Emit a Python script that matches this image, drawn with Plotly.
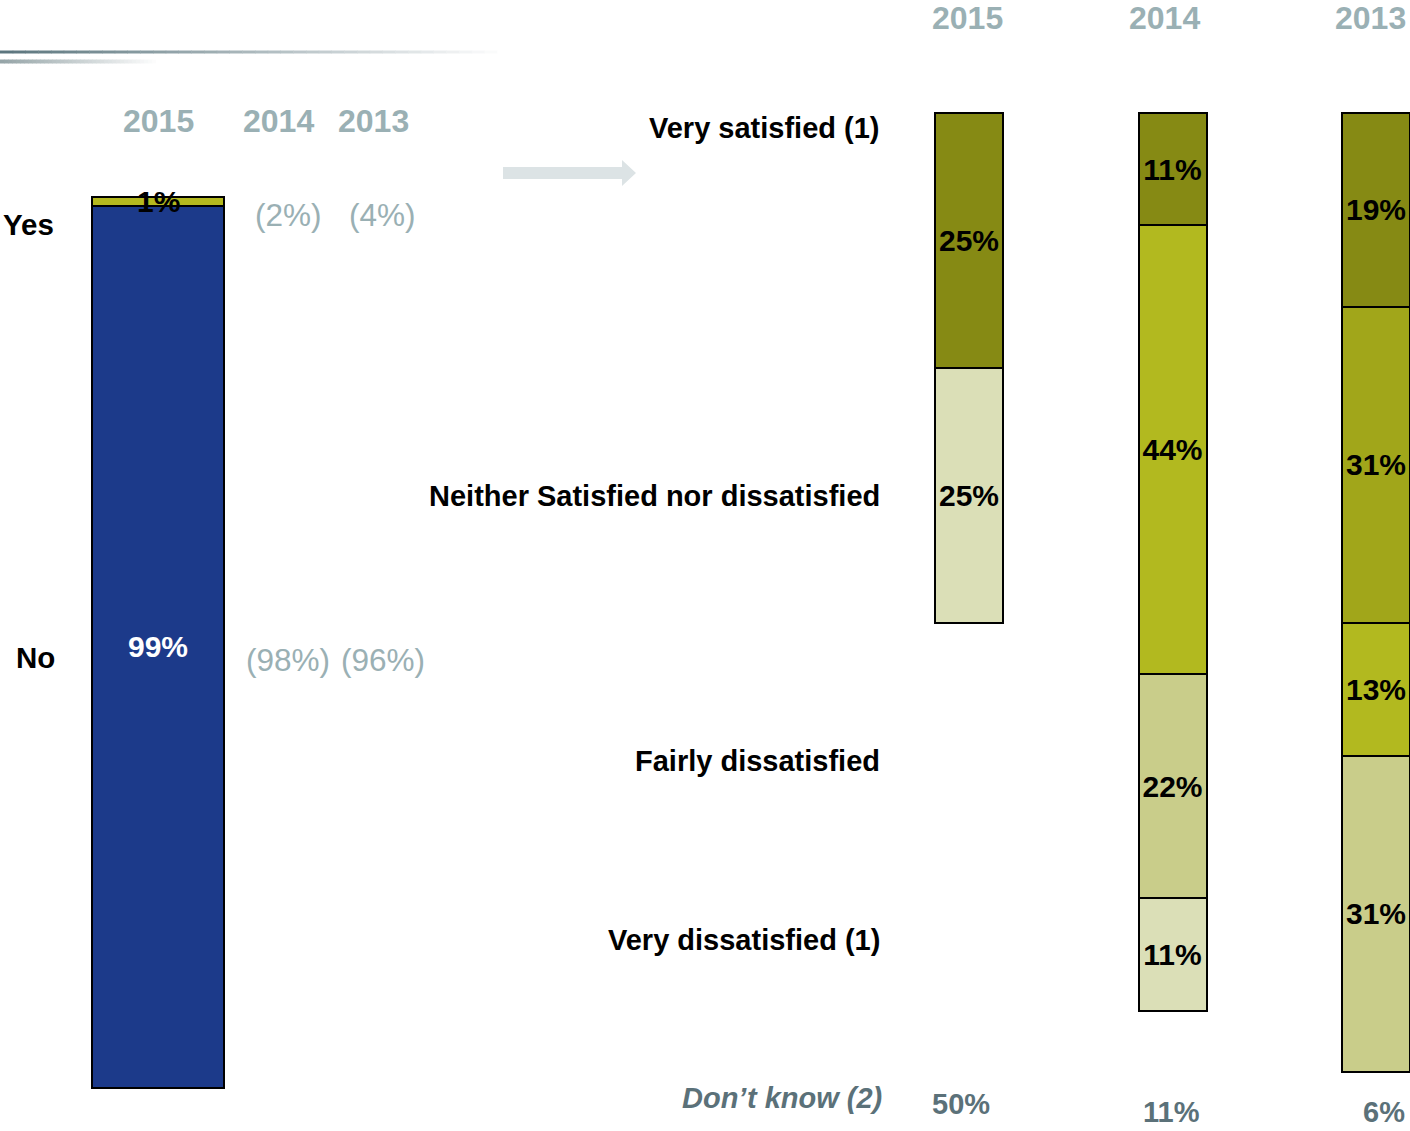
import plotly.graph_objects as go

W, H = 1410, 1131

# --- data -------------------------------------------------------------
left_year = ["2015"]
yes_pct = [1]
no_pct = [99]
prev_yes = ["(2%)", "(4%)"]
prev_no = ["(98%)", "(96%)"]
left_years_header = ["2015", "2014", "2013"]

years = ["2015", "2014", "2013"]
very_satisfied = [25, 11, 19]
fairly_satisfied = [None, None, 31]
neither = [None, 44, 13]
fairly_dissatisfied = [None, 22, 31]
very_dissatisfied = [25, 11, None]
dont_know = ["50%", "11%", "6%"]

row_labels = ["Very satisfied (1)", "Neither Satisfied nor dissatisfied",
              "Fairly dissatisfied", "Very dissatisfied (1)"]

FONT = "Liberation Sans, Arial, sans-serif"
GREY = "#9AB0B4"
SLATE = "#5B7179"


def px(x):
    return x / W


def py(y):
    return 1 - y / H


fig = go.Figure()


def add_bar(x, y, color, xaxis, yaxis, width, txtcolor="black", label=True):
    txt = [f"<b>{v}%</b>" if (v and label) else "" for v in y]
    fig.add_trace(go.Bar(
        x=x, y=y, xaxis=xaxis, yaxis=yaxis, width=width,
        marker=dict(color=color, line=dict(color="black", width=2)),
        text=txt, textposition="inside", insidetextanchor="middle",
        constraintext="none", textangle=0, cliponaxis=False,
        insidetextfont=dict(family=FONT, size=30, color=txtcolor),
        showlegend=False, hoverinfo="skip",
    ))


# left Yes/No bar (the thin "Yes" label is drawn as an annotation so it sits on top)
add_bar(left_year, yes_pct, "#B4B91F", "x2", "y2", 1, label=False)
add_bar(left_year, no_pct, "#1C3A8A", "x2", "y2", 1, txtcolor="white")

# right satisfaction bars
seg_w = 68 / 203.5
add_bar(years, very_satisfied, "#868A14", "x", "y", seg_w)
add_bar(years, fairly_satisfied, "#A1A61A", "x", "y", seg_w)
add_bar(years, neither, "#B2B91F", "x", "y", seg_w)
add_bar(years, fairly_dissatisfied, "#C9CD8A", "x", "y", seg_w)
add_bar(years, very_dissatisfied, "#DBDFB7", "x", "y", seg_w)

# axes geometry
# left: 132 px per category unit, 8.91 px per percent, 0% at y=197
lpx, lx0, lx1, lxc = 132, 86, 230, 158
ly_px, ly0, ly_top, ly_bot = 8.91, 197, 150, 1096
# right: 203.5 px per category, 10.2 px per percent, 0% at y=113
rpx, rx0 = 203.5, 860
ry_px, ry0, ry_top = 10.2, 113, 105

ax_off = dict(visible=False, showgrid=False, zeroline=False, fixedrange=True)
fig.update_layout(
    barmode="stack",
    width=W, height=H,
    margin=dict(l=0, r=0, t=0, b=0),
    paper_bgcolor="white", plot_bgcolor="rgba(0,0,0,0)",
    xaxis=dict(**ax_off, type="category", domain=[px(rx0), 1],
               range=[-(969 - rx0) / rpx, -(969 - rx0) / rpx + (W - rx0) / rpx]),
    yaxis=dict(**ax_off, domain=[0, py(ry_top)],
               range=[(H - ry0) / ry_px, -(ry0 - ry_top) / ry_px]),
    xaxis2=dict(**ax_off, type="category", domain=[px(lx0), px(lx1)],
                range=[-(lxc - lx0) / lpx, (lx1 - lxc) / lpx]),
    yaxis2=dict(**ax_off, anchor="x2", domain=[py(ly_bot), py(ly_top)],
                range=[(ly_bot - ly0) / ly_px, -(ly0 - ly_top) / ly_px]),
    font=dict(family=FONT),
)

ann = []


def text(x, y, s, size, color="black", bold=True, anchor="center", italic=False):
    if bold:
        s = f"<b>{s}</b>"
    if italic:
        s = f"<i>{s}</i>"
    ann.append(dict(x=px(x), y=py(y), xref="paper", yref="paper", text=s,
                    showarrow=False, xanchor=anchor, yanchor="middle",
                    font=dict(family=FONT, size=size, color=color)))


# "1%" label over the thin Yes segment (centre of the segment on the left scale)
text(lxc, ly0 + yes_pct[0] / 2 * ly_px, f"{yes_pct[0]}%", 30)

# headers
for yr, x in zip(years, [967, 1164, 1370]):
    text(x, 18, yr, 32, GREY)
for yr, x in zip(left_years_header, [158, 278, 373]):
    text(x, 121, yr, 32, GREY)

# previous-year values
for s, x in zip(prev_yes, [288, 382]):
    text(x, 215, s, 31.5, GREY, bold=False)
for s, x in zip(prev_no, [288, 383]):
    text(x, 660, s, 31.5, GREY, bold=False)

text(29, 224, "Yes", 29.5)
text(35, 657, "No", 29.5)

for s, y in zip(row_labels, [128, 496, 761, 940]):
    text(882, y, s, 29, anchor="right")

text(884, 1098, "Don’t know (2)", 29, SLATE, italic=True, anchor="right")
for s, x, y in zip(dont_know, [961, 1171, 1384], [1104, 1112, 1112]):
    text(x, y, s, 29, SLATE)

fig.update_layout(annotations=ann)

# decorative gradient rules (top left)
shapes = []


def grad_line(x0, x1, y, thick, rgb, n=40):
    step = (x1 - x0) / n
    for i in range(n):
        t = i / (n - 1)
        c = tuple(int(rgb[k] + (255 - rgb[k]) * t) for k in range(3))
        shapes.append(dict(type="rect", xref="paper", yref="paper",
                           x0=px(x0 + i * step), x1=px(x0 + (i + 1) * step + 0.5),
                           y0=py(y + thick / 2), y1=py(y - thick / 2),
                           fillcolor="rgb(%d,%d,%d)" % c, line=dict(width=0), layer="below"))


grad_line(0, 510, 52, 3, (92, 118, 126))
grad_line(0, 160, 61.5, 4, (150, 165, 168))

# arrow
pts = [(503, 167), (622, 167), (622, 160), (636, 173), (622, 186), (622, 179), (503, 179)]
path = "M " + " L ".join(f"{px(x):.5f},{py(y):.5f}" for x, y in pts) + " Z"
shapes.append(dict(type="path", xref="paper", yref="paper", path=path,
                   fillcolor="#DCE3E5", line=dict(width=0)))

fig.update_layout(shapes=shapes)

# page has a default body margin; drop it so the figure sits at the window origin
fig.write_html("out.html", config={"displayModeBar": False},
               post_script="document.body.style.margin='0';")
